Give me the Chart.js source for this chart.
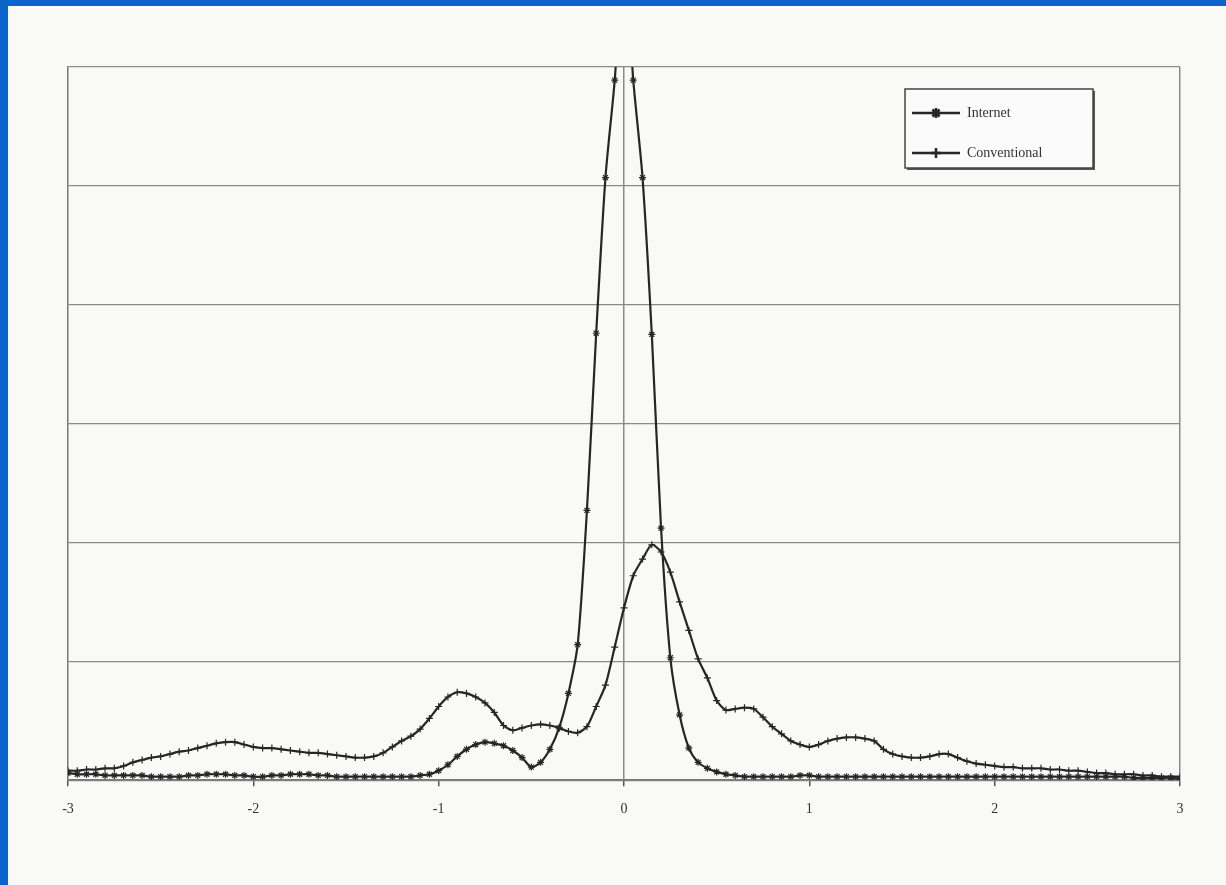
<!DOCTYPE html>
<html>
<head>
<meta charset="utf-8">
<script src="https://cdn.jsdelivr.net/npm/chart.js@4"></script>
<style>
  body { margin: 0; background: #0a64cc; width: 1226px; height: 885px; overflow: hidden; }
  #paper { position: absolute; left: 8px; top: 6px; width: 1218px; height: 879px; background: #f9f9f8; }
  canvas { display: block; }
</style>
</head>
<body>
<div id="paper"><canvas id="chart" width="1218" height="879"></canvas></div>
<script>
// x positions, step 0.05 from -3 to 3
const xValues = [
  -3.00, -2.95, -2.90, -2.85, -2.80, -2.75, -2.70, -2.65, -2.60, -2.55,
  -2.50, -2.45, -2.40, -2.35, -2.30, -2.25, -2.20, -2.15, -2.10, -2.05,
  -2.00, -1.95, -1.90, -1.85, -1.80, -1.75, -1.70, -1.65, -1.60, -1.55,
  -1.50, -1.45, -1.40, -1.35, -1.30, -1.25, -1.20, -1.15, -1.10, -1.05,
  -1.00, -0.95, -0.90, -0.85, -0.80, -0.75, -0.70, -0.65, -0.60, -0.55,
  -0.50, -0.45, -0.40, -0.35, -0.30, -0.25, -0.20, -0.15, -0.10, -0.05,
  0.00,
  0.05, 0.10, 0.15, 0.20, 0.25, 0.30, 0.35, 0.40, 0.45, 0.50,
  0.55, 0.60, 0.65, 0.70, 0.75, 0.80, 0.85, 0.90, 0.95, 1.00,
  1.05, 1.10, 1.15, 1.20, 1.25, 1.30, 1.35, 1.40, 1.45, 1.50,
  1.55, 1.60, 1.65, 1.70, 1.75, 1.80, 1.85, 1.90, 1.95, 2.00,
  2.05, 2.10, 2.15, 2.20, 2.25, 2.30, 2.35, 2.40, 2.45, 2.50,
  2.55, 2.60, 2.65, 2.70, 2.75, 2.80, 2.85, 2.90, 2.95, 3.00
];

const internet = [
  0.06, 0.05, 0.05, 0.05, 0.04, 0.04, 0.04, 0.04, 0.04, 0.03,
  0.03, 0.03, 0.03, 0.04, 0.04, 0.05, 0.05, 0.05, 0.04, 0.04,
  0.03, 0.03, 0.04, 0.04, 0.05, 0.05, 0.05, 0.04, 0.04, 0.03,
  0.03, 0.03, 0.03, 0.03, 0.03, 0.03, 0.03, 0.03, 0.04, 0.05,
  0.08, 0.13, 0.20, 0.26, 0.30, 0.32, 0.31, 0.29, 0.25, 0.19,
  0.11, 0.15, 0.26, 0.44, 0.73, 1.14, 2.27, 3.76, 5.07, 5.89,
  7.00,
  5.89, 5.07, 3.75, 2.12, 1.03, 0.55, 0.27, 0.15, 0.10, 0.07,
  0.05, 0.04, 0.03, 0.03, 0.03, 0.03, 0.03, 0.03, 0.04, 0.04,
  0.03, 0.03, 0.03, 0.03, 0.03, 0.03, 0.03, 0.03, 0.03, 0.03,
  0.03, 0.03, 0.03, 0.03, 0.03, 0.03, 0.03, 0.03, 0.03, 0.03,
  0.03, 0.03, 0.03, 0.03, 0.03, 0.03, 0.03, 0.03, 0.03, 0.03,
  0.03, 0.03, 0.03, 0.03, 0.02, 0.02, 0.02, 0.02, 0.02, 0.01
];

const conventional = [
  0.08, 0.08, 0.09, 0.09, 0.10, 0.10, 0.12, 0.15, 0.17, 0.19,
  0.20, 0.22, 0.24, 0.25, 0.27, 0.29, 0.31, 0.32, 0.32, 0.30,
  0.28, 0.27, 0.27, 0.26, 0.25, 0.24, 0.23, 0.23, 0.22, 0.21,
  0.20, 0.19, 0.19, 0.20, 0.23, 0.28, 0.33, 0.37, 0.43, 0.52,
  0.62, 0.70, 0.74, 0.73, 0.70, 0.65, 0.57, 0.46, 0.42, 0.44,
  0.46, 0.47, 0.46, 0.44, 0.41, 0.40, 0.45, 0.62, 0.80, 1.12,
  1.45,
  1.72, 1.86, 1.98, 1.92, 1.75, 1.50, 1.26, 1.02, 0.86, 0.67,
  0.59, 0.60, 0.61, 0.60, 0.53, 0.45, 0.39, 0.33, 0.30, 0.28,
  0.30, 0.33, 0.35, 0.36, 0.36, 0.35, 0.33, 0.26, 0.22, 0.20,
  0.19, 0.19, 0.20, 0.22, 0.22, 0.19, 0.16, 0.14, 0.13, 0.12,
  0.11, 0.11, 0.10, 0.10, 0.10, 0.09, 0.09, 0.08, 0.08, 0.07,
  0.06, 0.06, 0.05, 0.05, 0.05, 0.04, 0.04, 0.03, 0.03, 0.03
];

const xTicks = [-3, -2, -1, 0, 1, 2, 3];

const ink = '#262626';
const gridGray = '#8a8a8a';
const serif = "'Liberation Serif', 'DejaVu Serif', serif";

const toPoints = (ys) => xValues.map((x, i) => ({ x: x, y: ys[i] }));

// legend box drawn inside the plot, like the scanned original
const boxLegend = {
  id: 'boxLegend',
  afterDraw(chart) {
    const c = chart.ctx;
    const x = 897, y = 83, w = 188, h = 79;
    c.save();
    c.fillStyle = '#555';
    c.fillRect(x + 2, y + 2, w, h);
    c.fillStyle = '#fbfbfb';
    c.fillRect(x, y, w, h);
    c.strokeStyle = '#444';
    c.lineWidth = 1.5;
    c.strokeRect(x, y, w, h);
    c.font = '14px ' + serif;
    c.textBaseline = 'middle';
    const rows = [107, 147];
    chart.data.datasets.forEach((ds, i) => {
      const ly = rows[i];
      c.strokeStyle = ink;
      c.lineWidth = 2.5;
      c.beginPath();
      c.moveTo(904, ly);
      c.lineTo(952, ly);
      c.stroke();
      Chart.helpers.drawPoint(c, {
        pointStyle: ds.pointStyle, radius: 5, borderWidth: 1.5, rotation: 0
      }, 928, ly);
      c.fillStyle = '#333';
      c.fillText(ds.label, 959, ly);
    });
    c.restore();
  }
};

new Chart(document.getElementById('chart'), {
  type: 'line',
  data: {
    datasets: [{
      label: 'Internet',
      data: toPoints(internet),
      borderColor: ink,
      borderWidth: 2.2,
      pointStyle: 'star',
      pointRadius: 3.5,
      pointBorderColor: ink,
      pointBorderWidth: 1.2,
      tension: 0.25
    }, {
      label: 'Conventional',
      data: toPoints(conventional),
      borderColor: ink,
      borderWidth: 2.2,
      pointStyle: 'cross',
      pointRadius: 3.5,
      pointBorderColor: ink,
      pointBorderWidth: 1.2,
      tension: 0.25
    }]
  },
  options: {
    responsive: false,
    animation: false,
    layout: { padding: { left: 60, right: 46, top: 61, bottom: 52 } },
    plugins: { legend: { display: false }, tooltip: { enabled: false } },
    scales: {
      x: {
        type: 'linear',
        min: -3,
        max: 3,
        afterBuildTicks: (axis) => { axis.ticks = xTicks.map(v => ({ value: v })); },
        ticks: { color: '#333', font: { family: serif, size: 14 }, padding: 15 },
        grid: {
          color: (ctx) => (ctx.tick && (ctx.tick.value === 0 || ctx.tick.value === 3)) ? gridGray : 'rgba(0,0,0,0)',
          lineWidth: 1.5,
          tickLength: 6,
          tickColor: '#555'
        },
        border: { color: '#777', width: 1.5 }
      },
      y: {
        min: 0,
        max: 6,
        ticks: { display: false, stepSize: 1 },
        grid: { color: gridGray, lineWidth: 1.2, drawTicks: false },
        border: { color: '#777', width: 1.5 }
      }
    }
  },
  plugins: [boxLegend]
});
</script>
</body>
</html>
